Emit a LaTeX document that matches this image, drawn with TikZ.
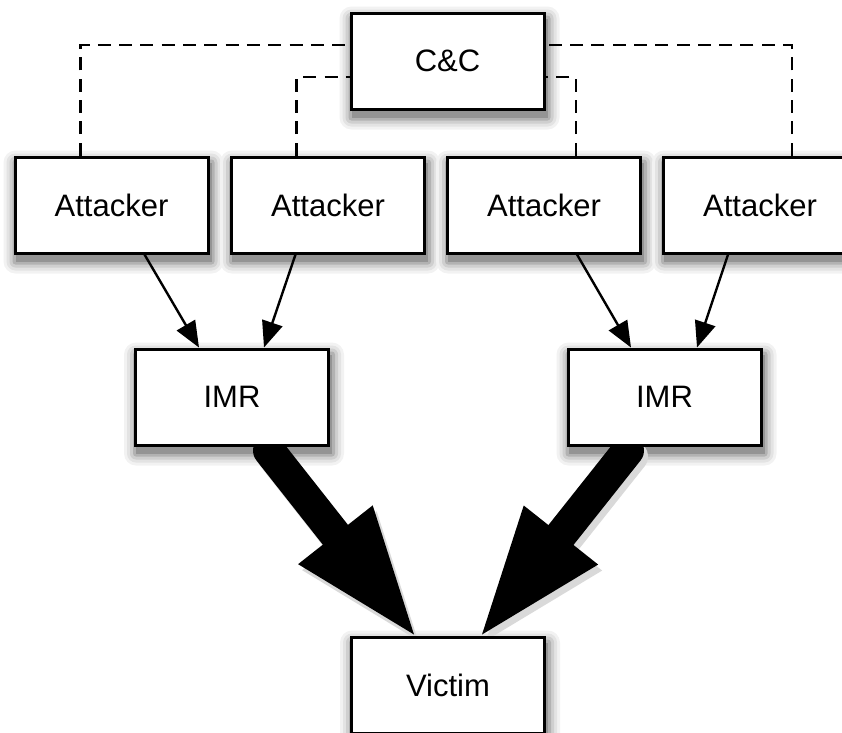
\documentclass[tikz,border=0pt]{standalone}
\usepackage{fontspec}
\setmainfont{Liberation Sans}
\usetikzlibrary{arrows.meta,calc}
\pgfdeclarelayer{shadowlayer}
\pgfdeclarelayer{background}
\pgfsetlayers{shadowlayer,background,main}
\begin{document}
\begin{tikzpicture}[x=1pt,y=-1pt,
  box/.style={draw, line width=3pt, fill=white, minimum width=193pt, minimum height=96pt,
    inner sep=0pt, font=\fontsize{31}{36}\selectfont},
  thinarrow/.style={line width=2.4pt, -{Triangle[length=26pt,width=21pt]}},
  ctrl/.style={line width=2.7pt, dash pattern=on 13pt off 8.3pt},
  bigarrow/.style={line width=32pt, line cap=round, -{Triangle[length=127pt,width=95pt,line width=0pt]}}
]
\useasboundingbox (0,0) rectangle (842,732);
\clip (0,0) rectangle (842,732);

\node[box] (cc) at (447.5,61) {C\&C};
\node[box] (a1) at (111.5,205) {Attacker};
\node[box] (a2) at (328,205) {Attacker};
\node[box] (a3) at (544,205) {Attacker};
\node[box] (a4) at (760,205) {Attacker};
\node[box] (imrL) at (232,397) {IMR};
\node[box] (imrR) at (664.5,397) {IMR};
\node[box] (victim) at (448,685) {Victim};

% soft shadows
\begin{pgfonlayer}{shadowlayer}
\foreach \n in {cc,a1,a2,a3,a4,imrL,imrR,victim}{
  \foreach \e/\c in {12/5,9/11,6/19,3/30,0/42}{
    \fill[black!\c, rounded corners=\e pt]
      ($(\n.north west)+(2-\e,7-\e)$) rectangle ($(\n.south east)+(2+\e,7+\e)$);
  }
}
\draw[bigarrow, black!15, transform canvas={shift={(4pt,-6pt)}}]
  ($(imrL.south)+(37,4)$) -- ($(victim.north)+(-34,-1)$);
\draw[bigarrow, black!15, transform canvas={shift={(4pt,-6pt)}}]
  ($(imrR.south)+(-36.5,4)$) -- ($(victim.north)+(34,-1)$);
\end{pgfonlayer}

% control channels
\draw[ctrl] ($(a1.north)+(-31,0)$) |- ($(cc.west)+(0,-16)$);
\draw[ctrl] ($(a2.north)+(-31.5,0)$) |- ($(cc.west)+(0,16)$);
\draw[ctrl] ($(a3.north)+(32,0)$) |- ($(cc.east)+(0,16)$);
\draw[ctrl] ($(a4.north)+(32,0)$) |- ($(cc.east)+(0,-16)$);

% attacker to IMR
\draw[thinarrow] ($(a1.south)+(33,0)$) -- ($(imrL.north)+(-33,0)$);
\draw[thinarrow] ($(a2.south)+(-32.5,0)$) -- ($(imrL.north)+(32,0)$);
\draw[thinarrow] ($(a3.south)+(33,0)$) -- ($(imrR.north)+(-33.5,0)$);
\draw[thinarrow] ($(a4.south)+(-32,0)$) -- ($(imrR.north)+(32.5,0)$);

% amplified traffic
\begin{pgfonlayer}{background}
\draw[bigarrow] ($(imrL.south)+(37,4)$) -- ($(victim.north)+(-34,-1)$);
\draw[bigarrow] ($(imrR.south)+(-36.5,4)$) -- ($(victim.north)+(34,-1)$);
\end{pgfonlayer}
\end{tikzpicture}
\end{document}
